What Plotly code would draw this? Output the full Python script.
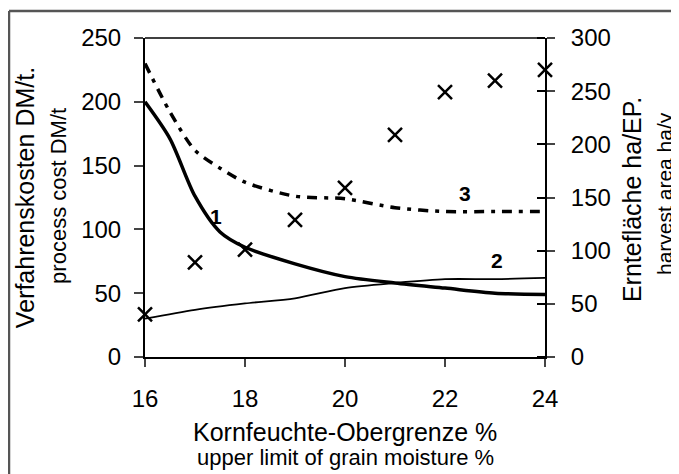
import plotly.graph_objects as go

# Data
moisture = [16, 17, 18, 19, 20, 21, 22, 23, 24]
cost1_x = [16, 16.5, 17, 17.5, 18, 19, 20, 21, 22, 23, 24]
cost1 = [200, 171, 126, 98, 86, 73, 63, 58, 54, 50, 49]
cost2 = [30, 37, 42, 46, 54, 58, 61, 61, 62]
cost3_x = [16, 16.5, 17, 17.5, 18, 19, 20, 21, 22, 23, 24]
cost3 = [230, 192, 162, 148, 137, 126, 124, 117, 114, 114, 114]
harvest_area = [40, 89, 101, 129, 159, 209, 249, 260, 270]

x_ticks = [16, 18, 20, 22, 24]
left_ticks = [0, 50, 100, 150, 200, 250]
right_ticks = [0, 50, 100, 150, 200, 250, 300]

FONT = "Liberation Sans, Arial, sans-serif"

fig = go.Figure()
fig.add_trace(go.Scatter(x=cost1_x, y=cost1, mode="lines",
                         line=dict(color="black", width=3.5, shape="spline", smoothing=0.8),
                         showlegend=False, hoverinfo="skip"))
fig.add_trace(go.Scatter(x=moisture, y=cost2, mode="lines",
                         line=dict(color="black", width=1.8, shape="spline", smoothing=0.8),
                         showlegend=False, hoverinfo="skip"))
fig.add_trace(go.Scatter(x=cost3_x, y=cost3, mode="lines",
                         line=dict(color="black", width=3.5, shape="spline", smoothing=0.8,
                                   dash="10px,7px,4px,7px"),
                         showlegend=False, hoverinfo="skip"))
fig.add_trace(go.Scatter(x=moisture, y=harvest_area, mode="markers", yaxis="y2",
                         marker=dict(symbol="x-thin", size=14, color="black",
                                     line=dict(color="black", width=2.5)),
                         showlegend=False, hoverinfo="skip", cliponaxis=False))
# invisible trace to anchor yaxis3 (inner half of right-axis ticks)
fig.add_trace(go.Scatter(x=[16], y=[0], yaxis="y3", mode="markers",
                         marker=dict(opacity=0), showlegend=False, hoverinfo="skip"))

tickfont = dict(family=FONT, size=24, color="black")

# page body has an 8px margin -> figure is 8px smaller than the window
fig.update_layout(
    width=671, height=466,
    margin=dict(l=137, r=134, t=30, b=117),
    paper_bgcolor="white", plot_bgcolor="white",
    font=dict(family=FONT, color="black"),
    xaxis=dict(range=[16, 24], tickvals=x_ticks, ticks="outside", ticklen=8, tickwidth=2,
               showline=True, linewidth=2, linecolor="black", mirror=False,
               showgrid=False, zeroline=False, tickfont=tickfont, ticklabelstandoff=11),
    yaxis=dict(range=[0, 250], tickvals=left_ticks, ticks="outside", ticklen=9, tickwidth=2,
               showline=True, linewidth=2, linecolor="black",
               showgrid=False, zeroline=False, tickfont=tickfont, ticklabelstandoff=8),
    yaxis2=dict(range=[0, 300], tickvals=right_ticks, overlaying="y", side="right",
                ticks="outside", ticklen=8, tickwidth=2,
                showline=True, linewidth=2, linecolor="black",
                showgrid=False, zeroline=False, tickfont=tickfont, ticklabelstandoff=11),
    yaxis3=dict(range=[0, 300], tickvals=right_ticks, overlaying="y", side="left",
                anchor="free", position=1, ticks="outside", ticklen=8, tickwidth=2,
                tickcolor="black", showticklabels=False, showline=False,
                showgrid=False, zeroline=False),
)

# top border of plot area
fig.add_shape(type="line", xref="paper", yref="paper", x0=0, x1=1, y0=1, y1=1,
              line=dict(color="black", width=1.5))
# outer frame (top and left, gray)
fig.add_shape(type="line", xref="paper", yref="paper", x0=-0.34, x1=1.4, y0=1.0846, y1=1.0846,
              line=dict(color="#555555", width=2.5))
fig.add_shape(type="line", xref="paper", yref="paper", x0=-0.34, x1=-0.34, y0=1.0846, y1=-0.45,
              line=dict(color="#555555", width=2.5))

ann = []
ann.append(dict(text="Verfahrenskosten DM/t.", x=-0.30, y=0.498, textangle=-90,
                font=dict(size=25)))
ann.append(dict(text="process cost DM/t", x=-0.215, y=0.505, textangle=-90,
                font=dict(size=22)))
ann.append(dict(text="Erntefläche ha/EP.", x=1.2175, y=0.492, textangle=-90,
                font=dict(size=25)))
ann.append(dict(text="harvest area ha/y", x=1.3, y=0.511, textangle=-90,
                font=dict(size=21)))
ann.append(dict(text="Kornfeuchte-Obergrenze %", x=0.5, y=-0.235, font=dict(size=25)))
ann.append(dict(text="upper limit of grain moisture %", x=0.5, y=-0.3166, font=dict(size=22)))
for a in ann:
    a.update(xref="paper", yref="paper", xanchor="center", yanchor="middle", showarrow=False)
    a["font"].update(family=FONT, color="black")
    fig.add_annotation(**a)

for txt, xx, yy in [("1", 17.42, 110), ("2", 23.04, 76), ("3", 22.4, 128.5)]:
    fig.add_annotation(text="<b>%s</b>" % txt, x=xx, y=yy, xref="x", yref="y",
                       showarrow=False, xanchor="center", yanchor="middle",
                       font=dict(family=FONT, size=21, color="black"))

fig.write_html("out.html")
